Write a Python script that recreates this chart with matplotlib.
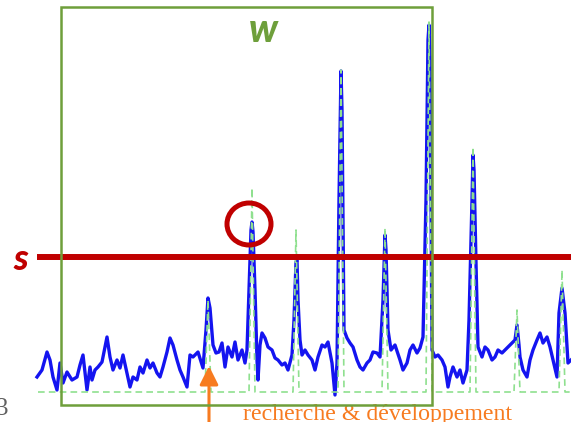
import numpy as np
import matplotlib
matplotlib.use("Agg")
import matplotlib.pyplot as plt
from matplotlib.patches import Rectangle, Ellipse

# measured signal (sample position, amplitude above baseline)
blue_x = [37, 42, 47, 50, 53, 57, 60, 63, 67, 72, 77, 80, 83, 87, 90, 92, 95, 98, 102, 105,
          107, 110, 113, 117, 120, 123, 127, 130, 133, 137, 140, 143, 147, 150, 153, 157, 160, 163, 167, 170,
          173, 177, 180, 183, 187, 190, 193, 198, 203, 206, 208, 210, 213, 216, 219, 222, 225, 228, 232, 235,
          238, 242, 245, 247, 249, 251, 252, 253, 255, 257, 258, 260, 262, 265, 268, 272, 275, 278, 282, 285,
          288, 292, 294, 296, 297, 298, 300, 302, 305, 308, 312, 315, 318, 322, 325, 328, 332, 335, 337, 339,
          341, 342, 344, 347, 350, 353, 357, 360, 363, 367, 370, 373, 377, 380, 383, 385, 386, 388, 391, 395,
          400, 403, 407, 410, 413, 417, 420, 423, 426, 428, 429, 430, 432, 435, 438, 442, 445, 448, 450, 453,
          457, 460, 463, 467, 469, 472, 473, 474, 476, 478, 482, 485, 488, 492, 495, 498, 502, 505, 508, 512,
          515, 517, 519, 520, 523, 527, 530, 533, 537, 540, 543, 547, 550, 553, 557, 559, 562, 565, 568, 571]
blue_y = [15, 22, 40, 32, 15, 2, 29, 9, 20, 12, 15, 27, 37, 2, 25, 12, 22, 25, 30, 45,
          55, 35, 22, 32, 24, 37, 19, 5, 15, 12, 25, 19, 32, 24, 29, 19, 15, 25, 40, 54,
          47, 32, 22, 15, 5, 37, 35, 40, 24, 62, 94, 84, 47, 39, 40, 49, 25, 45, 35, 50,
          32, 42, 29, 42, 102, 162, 170, 160, 102, 32, 12, 47, 59, 54, 45, 42, 34, 32, 27, 29,
          22, 37, 72, 130, 132, 92, 52, 37, 42, 37, 32, 22, 35, 47, 45, 50, 29, -3, 29, 192,
          321, 282, 62, 54, 49, 45, 32, 25, 22, 29, 32, 40, 39, 35, 92, 157, 142, 62, 42, 47,
          32, 22, 29, 42, 47, 39, 44, 55, 192, 352, 367, 332, 42, 35, 37, 32, 25, 5, 15, 25,
          15, 22, 9, 22, 72, 192, 237, 222, 129, 45, 35, 45, 42, 32, 35, 42, 39, 42, 45, 49,
          52, 67, 47, 35, 22, 15, 32, 42, 52, 59, 49, 55, 45, 32, 15, 79, 104, 79, 29, 32]

# reference pulse train
peak_pos = [208, 252, 296, 341, 385, 429, 473, 517, 562]
peak_amp = [92, 204, 162, 322, 164, 370, 245, 82, 122]

threshold = 135

gx = [38]
gy = [0]
for p, a in zip(peak_pos, peak_amp):
    gx += [p - 3, p, p + 3]
    gy += [0, a, 0]
gx.append(571)
gy.append(0)

green = "#6e9f3b"
red = "#c00000"
orange = "#f77b20"

fig = plt.figure(figsize=(5.71, 4.22), dpi=100)
ax = fig.add_axes([0, 0, 1, 1])
ax.set_xlim(0, 571)
ax.set_ylim(-30, 392)
ax.axis("off")

ax.plot(blue_x, blue_y, color="#1414f0", lw=2.4, solid_joinstyle="round", zorder=2)
ax.plot(gx, gy, color="#8fe08f", lw=1.2, dashes=(4, 2.5), zorder=3)

ax.plot([37, 571], [threshold, threshold], color=red, lw=4.3, solid_capstyle="butt", zorder=4)
ax.add_patch(Rectangle((61, -13), 371, 398, fill=False, ec=green, lw=1.8, zorder=5))
ax.add_patch(Ellipse((249, 168), 44, 42, fill=False, ec=red, lw=3.6, zorder=6))

ax.text(263, 350, "w", color=green, fontsize=28, family="Lato", weight="black",
        style="italic", ha="center", va="baseline")
ax.text(21, 122, "s", color=red, fontsize=26, family="Lato", weight="black",
        style="italic", ha="center", va="baseline")

ax.annotate("", xy=(209, 26), xytext=(209, -35),
            arrowprops=dict(arrowstyle="-|>,head_length=0.8,head_width=0.4",
                            color=orange, lw=2.2, mutation_scale=14, shrinkA=0, shrinkB=0))
ax.text(243, -28, "recherche & développement", color=orange, fontsize=17.2,
        family="Liberation Serif", ha="left", va="baseline")
ax.text(8, -23, "3", color="#606060", fontsize=18, family="Liberation Serif",
        ha="right", va="baseline")

fig.savefig("out.png", dpi=100)
